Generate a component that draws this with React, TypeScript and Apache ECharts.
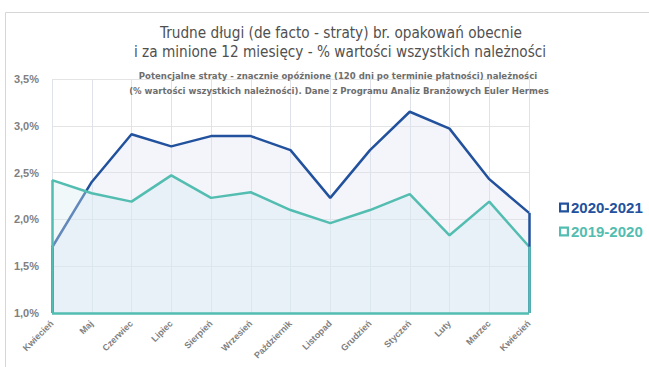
import React, { useEffect, useRef } from "react";
import * as echarts from "echarts";

const months = [
  "Kwiecień", "Maj", "Czerwiec", "Lipiec", "Sierpień", "Wrzesień", "Październik",
  "Listopad", "Grudzień", "Styczeń", "Luty", "Marzec", "Kwiecień",
];
const values2021 = [1.70, 2.40, 2.91, 2.78, 2.89, 2.89, 2.74, 2.23, 2.74, 3.15, 2.97, 2.43, 2.07];
const values1920 = [2.42, 2.28, 2.19, 2.47, 2.23, 2.29, 2.10, 1.96, 2.10, 2.27, 1.83, 2.19, 1.71];
const seriesNames = ["2020-2021", "2019-2020"];
const yMin = 1.0;
const yMax = 3.5;
const yStep = 0.5;

const titleLines = [
  "Trudne długi (de facto - straty) br. opakowań obecnie",
  "i za minione 12 miesięcy - % wartości wszystkich należności",
];
const subtitleLines = [
  "Potencjalne straty - znacznie opóźnione (120 dni po terminie płatności) należności",
  "(% wartości wszystkich należności). Dane z Programu Analiz Branżowych Euler Hermes",
];

const BLUE = "#22519d";
const TEAL = "#52bdb0";
const NARROW = "'Liberation Sans Narrow', 'DejaVu Sans Condensed', 'Roboto', sans-serif";
const SANS = "'Liberation Sans', Arial, sans-serif";
const HOLLOW = "path://M0,0H10V10H0Z M2.2,2.2V7.8H7.8V2.2Z";

export default function App() {
  const ref = useRef<HTMLDivElement>(null);
  useEffect(() => {
    if (!ref.current) return;
    const chart = echarts.init(ref.current, undefined, { renderer: "svg" });
    const last = months.length - 1;
    const edge = (color: string, vals: number[], withBottom: boolean) => {
      const data: any[] = [
        [{ coord: [0, vals[0]] }, { coord: [0, yMin] }],
        [{ coord: [last, vals[last]] }, { coord: [last, yMin] }],
      ];
      if (withBottom) data.push([{ coord: [0, yMin] }, { coord: [last, yMin] }]);
      return {
        silent: true,
        symbol: ["none", "none"],
        label: { show: false },
        lineStyle: { color, width: 2.5, type: "solid" },
        emphasis: { disabled: true },
        data,
      };
    };
    const titleStyle = {
      fontFamily: NARROW,
      fontSize: 15.2,
      fontWeight: "normal",
      color: "#505050",
      lineHeight: 19,
    };
    const subStyle = {
      fontFamily: NARROW,
      fontSize: 9.5,
      fontWeight: "bold",
      color: "#6e6e6e",
      lineHeight: 14,
    };
    chart.setOption({
      animation: false,
      backgroundColor: "#ffffff",
      graphic: [
        {
          type: "rect",
          shape: { x: 5.5, y: 12.5, width: 700, height: 400 },
          style: { fill: "none", stroke: "#d6d6d6", lineWidth: 1 },
          silent: true,
        },
      ],
      title: [
        { text: titleLines[0], left: 341, top: 23.5, textAlign: "center", padding: 0, textStyle: titleStyle },
        { text: titleLines[1], left: 340, top: 42.5, textAlign: "center", padding: 0, textStyle: titleStyle },
        { text: subtitleLines[0], left: 338, top: 68, textAlign: "center", padding: 0, textStyle: subStyle },
        { text: subtitleLines[1], left: 339, top: 83, textAlign: "center", padding: 0, textStyle: subStyle },
      ],
      legend: {
        orient: "vertical",
        left: 554,
        top: 195,
        itemWidth: 10,
        itemHeight: 10,
        itemGap: 9,
        selectedMode: false,
        data: [
          {
            name: seriesNames[0],
            icon: HOLLOW,
            itemStyle: { color: BLUE },
            textStyle: { color: BLUE },
          },
          {
            name: seriesNames[1],
            icon: HOLLOW,
            itemStyle: { color: TEAL },
            textStyle: { color: TEAL },
          },
        ],
        textStyle: { fontFamily: SANS, fontSize: 15, fontWeight: "bold", padding: [0, 0, 0, -3] },
      },
      grid: { left: 52, right: 120, top: 79, bottom: 54 },
      xAxis: {
        type: "category",
        data: months,
        boundaryGap: false,
        axisLine: { show: false },
        axisTick: { show: false },
        splitLine: { show: true, lineStyle: { color: "#dfe3e9", width: 1 } },
        axisLabel: {
          rotate: 45,
          margin: 9,
          interval: 0,
          fontFamily: SANS,
          fontSize: 9,
          fontWeight: "bold",
          color: "#808080",
        },
      },
      yAxis: {
        type: "value",
        min: yMin,
        max: yMax,
        interval: yStep,
        axisLine: { show: false },
        axisTick: { show: false },
        splitLine: { show: true, lineStyle: { color: "#e4e4e4", width: 1 } },
        axisLabel: {
          margin: 13,
          fontFamily: SANS,
          fontSize: 11,
          fontWeight: "bold",
          color: "#808080",
          formatter: (v: number) => v.toFixed(1).replace(".", ",") + "%",
        },
      },
      series: [
        {
          name: seriesNames[0],
          type: "line",
          data: values2021,
          showSymbol: false,
          symbol: "none",
          lineStyle: { color: BLUE, width: 2.5 },
          itemStyle: { color: BLUE },
          areaStyle: { color: "rgba(221,225,241,0.5)", origin: "start" },
          markLine: edge(BLUE, values2021, false),
          z: 2,
        },
        {
          name: seriesNames[1],
          type: "line",
          data: values1920,
          showSymbol: false,
          symbol: "none",
          lineStyle: { color: TEAL, width: 2.5 },
          itemStyle: { color: TEAL },
          areaStyle: { color: "rgba(214,236,240,0.52)", origin: "start" },
          markLine: edge(TEAL, values1920, true),
          z: 3,
        },
      ],
    });
    return () => chart.dispose();
  }, []);
  return (
    <div
      ref={ref}
      style={{ position: "fixed", left: 0, top: 0, width: 649, height: 367, background: "#fff" }}
    />
  );
}
